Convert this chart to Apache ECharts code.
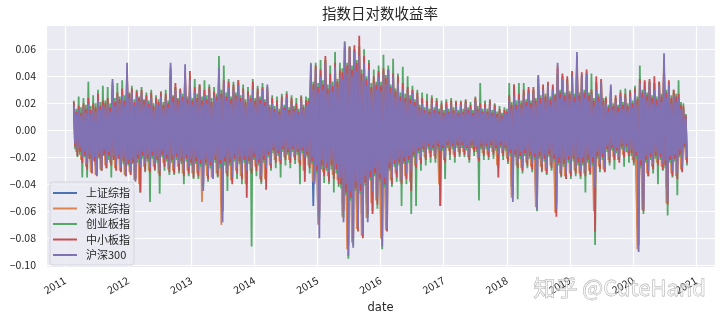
<!DOCTYPE html>
<html><head><meta charset="utf-8">
<script src="https://cdn.jsdelivr.net/npm/echarts@6/dist/echarts.min.js"></script>
<style>html,body{margin:0;padding:0;background:#fff}#c{width:727px;height:319px}</style>
</head><body><div id="c"></div>
<script>
const seriesNames = ['上证综指', '深证综指', '创业板指', '中小板指', '沪深300'];
const seriesColors = ['#4C72B0', '#DD8452', '#55A868', '#C44E52', '#8172B3'];
const startDate = '2011-02-21';
const stepDaysBySeries = [14, 14, 7, 7, 7];
const xTickYears = [2011, 2012, 2013, 2014, 2015, 2016, 2017, 2018, 2019, 2020, 2021];
const yTickValues = [-0.10, -0.08, -0.06, -0.04, -0.02, 0.00, 0.02, 0.04, 0.06];

const shIndex = [
0.015,-0.012,0.013,-0.017,0.014,-0.020,0.016,-0.024,0.013,-0.026,
0.018,-0.022,0.015,-0.020,0.016,-0.018,0.030,-0.021,0.020,-0.022,
0.021,-0.026,0.040,-0.024,0.022,-0.030,0.020,-0.022,0.022,-0.020,
0.018,-0.022,0.019,-0.020,0.016,-0.024,0.020,-0.018,0.018,-0.022,
0.040,-0.022,0.024,-0.020,0.022,-0.024,0.039,-0.022,0.030,-0.024,
0.022,-0.024,0.024,-0.036,0.021,-0.026,0.022,-0.029,0.020,-0.024,
0.037,-0.054,0.029,-0.024,0.026,-0.028,0.024,-0.022,0.026,-0.026,
0.022,-0.024,0.020,-0.022,0.024,-0.020,0.022,-0.027,0.024,-0.022,
0.027,-0.020,0.016,-0.016,0.014,-0.018,0.018,-0.014,0.019,-0.016,
0.016,-0.014,0.013,-0.018,0.018,-0.016,0.014,-0.020,0.039,-0.056,
0.036,-0.064,0.032,-0.022,0.040,-0.025,0.028,-0.024,0.038,-0.028,
0.032,-0.054,0.052,-0.074,0.048,-0.070,0.046,-0.058,0.044,-0.062,
0.040,-0.054,0.036,-0.036,0.028,-0.040,0.032,-0.069,0.034,-0.058,
0.036,-0.028,0.032,-0.024,0.028,-0.030,0.024,-0.026,0.022,-0.024,
0.022,-0.020,0.019,-0.016,0.016,-0.014,0.014,-0.012,0.016,-0.014,
0.014,-0.012,0.013,-0.016,0.014,-0.010,0.015,-0.013,0.014,-0.011,
0.014,-0.011,0.016,-0.014,0.013,-0.010,0.017,-0.016,0.014,-0.012,
0.014,-0.013,0.015,-0.011,0.013,-0.014,0.010,-0.012,0.010,-0.016,
0.018,-0.042,0.020,-0.019,0.018,-0.022,0.021,-0.018,0.022,-0.020,
0.022,-0.047,0.033,-0.020,0.024,-0.022,0.026,-0.019,0.024,-0.046,
0.040,-0.024,0.030,-0.026,0.028,-0.024,0.032,-0.022,0.046,-0.024,
0.032,-0.024,0.034,-0.022,0.022,-0.034,0.024,-0.020,0.029,-0.022,
0.016,-0.016,0.027,-0.014,0.018,-0.016,0.020,-0.013,0.019,-0.012,
0.020,-0.016,0.022,-0.072,0.028,-0.046,0.024,-0.024,0.028,-0.020,
0.024,-0.018,0.026,-0.020,0.046,-0.042,0.027,-0.024,0.021,-0.026,
0.019,-0.022,0.012,-0.016
];

const szIndex = [
0.019,-0.016,0.016,-0.022,0.018,-0.027,0.022,-0.031,0.018,-0.033,
0.025,-0.029,0.020,-0.026,0.022,-0.024,0.036,-0.028,0.026,-0.030,
0.028,-0.033,0.045,-0.031,0.029,-0.037,0.027,-0.040,0.028,-0.027,
0.024,-0.030,0.026,-0.027,0.022,-0.032,0.026,-0.024,0.025,-0.029,
0.047,-0.030,0.032,-0.027,0.029,-0.032,0.044,-0.030,0.040,-0.032,
0.030,-0.032,0.032,-0.053,0.028,-0.034,0.030,-0.035,0.027,-0.032,
0.043,-0.070,0.036,-0.032,0.034,-0.037,0.032,-0.030,0.035,-0.034,
0.029,-0.040,0.027,-0.030,0.033,-0.027,0.029,-0.036,0.031,-0.036,
0.032,-0.026,0.022,-0.022,0.020,-0.023,0.023,-0.020,0.025,-0.022,
0.022,-0.020,0.018,-0.024,0.023,-0.030,0.020,-0.026,0.045,-0.038,
0.046,-0.070,0.042,-0.031,0.052,-0.034,0.038,-0.033,0.048,-0.037,
0.042,-0.064,0.062,-0.088,0.061,-0.083,0.060,-0.073,0.062,-0.078,
0.052,-0.065,0.047,-0.054,0.037,-0.052,0.042,-0.080,0.044,-0.074,
0.045,-0.037,0.041,-0.032,0.037,-0.038,0.032,-0.034,0.030,-0.038,
0.029,-0.026,0.026,-0.022,0.022,-0.020,0.020,-0.017,0.022,-0.019,
0.020,-0.040,0.018,-0.022,0.019,-0.015,0.020,-0.018,0.019,-0.016,
0.019,-0.016,0.021,-0.020,0.017,-0.014,0.022,-0.021,0.018,-0.017,
0.018,-0.018,0.020,-0.016,0.017,-0.026,0.014,-0.017,0.013,-0.021,
0.024,-0.050,0.030,-0.026,0.025,-0.028,0.028,-0.024,0.030,-0.027,
0.030,-0.057,0.040,-0.027,0.032,-0.030,0.034,-0.026,0.032,-0.061,
0.048,-0.032,0.040,-0.034,0.037,-0.032,0.042,-0.030,0.055,-0.032,
0.041,-0.032,0.043,-0.030,0.028,-0.060,0.035,-0.027,0.037,-0.029,
0.022,-0.022,0.032,-0.020,0.024,-0.022,0.026,-0.018,0.025,-0.017,
0.027,-0.022,0.030,-0.088,0.036,-0.059,0.033,-0.032,0.036,-0.027,
0.035,-0.024,0.034,-0.027,0.053,-0.054,0.035,-0.032,0.028,-0.034,
0.025,-0.029,0.016,-0.022
];

const cybIndex = [
0.022,-0.014,0.016,-0.020,0.025,-0.018,0.017,-0.035,0.024,-0.020,0.019,-0.035,0.036,-0.021,0.018,-0.030,0.026,-0.022,0.020,-0.032,
0.030,-0.021,0.021,-0.030,0.033,-0.019,0.022,-0.028,0.032,-0.022,0.020,-0.035,0.030,-0.020,0.024,-0.027,0.035,-0.021,0.025,-0.030,
0.037,-0.025,0.026,-0.034,0.036,-0.026,0.028,-0.032,0.033,-0.025,0.023,-0.036,0.030,-0.024,0.025,-0.046,0.032,-0.021,0.023,-0.031,
0.028,-0.023,0.022,-0.053,0.030,-0.021,0.020,-0.030,0.026,-0.024,0.023,-0.047,0.029,-0.020,0.021,-0.030,0.030,-0.023,0.022,-0.033,
0.040,-0.024,0.026,-0.033,0.032,-0.022,0.024,-0.032,0.030,-0.025,0.027,-0.040,0.035,-0.023,0.025,-0.034,0.036,-0.026,0.024,-0.036,
0.038,-0.025,0.027,-0.036,0.034,-0.027,0.025,-0.042,0.037,-0.026,0.026,-0.038,0.034,-0.028,0.024,-0.036,0.032,-0.024,0.027,-0.035,
0.055,-0.028,0.030,-0.060,0.048,-0.026,0.028,-0.045,0.038,-0.026,0.025,-0.038,0.036,-0.023,0.028,-0.036,0.037,-0.025,0.026,-0.040,
0.034,-0.024,0.023,-0.040,0.032,-0.025,0.026,-0.086,0.038,-0.022,0.024,-0.034,0.033,-0.026,0.025,-0.040,0.035,-0.024,0.023,-0.038,
0.032,-0.020,0.019,-0.030,0.026,-0.017,0.018,-0.028,0.025,-0.019,0.016,-0.035,0.027,-0.016,0.019,-0.026,0.029,-0.018,0.017,-0.028,
0.026,-0.016,0.018,-0.025,0.024,-0.018,0.016,-0.040,0.026,-0.017,0.019,-0.030,0.025,-0.020,0.024,-0.032,0.050,-0.025,0.036,-0.038,
0.050,-0.032,0.035,-0.065,0.052,-0.029,0.037,-0.039,0.052,-0.030,0.034,-0.040,0.048,-0.029,0.036,-0.046,0.058,-0.032,0.038,-0.042,
0.050,-0.043,0.046,-0.065,0.066,-0.048,0.050,-0.095,0.062,-0.052,0.048,-0.085,0.060,-0.045,0.052,-0.072,0.062,-0.047,0.045,-0.078,
0.060,-0.041,0.040,-0.065,0.052,-0.037,0.035,-0.060,0.045,-0.034,0.036,-0.058,0.048,-0.038,0.036,-0.088,0.056,-0.042,0.041,-0.070,
0.048,-0.030,0.034,-0.042,0.053,-0.027,0.031,-0.038,0.042,-0.026,0.028,-0.056,0.047,-0.025,0.027,-0.040,0.040,-0.024,0.026,-0.062,
0.033,-0.020,0.023,-0.056,0.030,-0.017,0.019,-0.030,0.028,-0.016,0.017,-0.026,0.027,-0.014,0.016,-0.024,0.026,-0.015,0.017,-0.024,
0.024,-0.014,0.016,-0.056,0.022,-0.015,0.015,-0.036,0.023,-0.013,0.016,-0.022,0.024,-0.014,0.017,-0.024,0.022,-0.013,0.015,-0.020,
0.022,-0.013,0.016,-0.020,0.023,-0.015,0.017,-0.024,0.021,-0.013,0.015,-0.019,0.025,-0.016,0.018,-0.052,0.035,-0.014,0.016,-0.022,
0.022,-0.014,0.016,-0.022,0.023,-0.013,0.015,-0.021,0.020,-0.015,0.014,-0.028,0.018,-0.013,0.013,-0.022,0.017,-0.015,0.016,-0.025,
0.035,-0.019,0.021,-0.045,0.034,-0.020,0.022,-0.051,0.035,-0.021,0.022,-0.032,0.035,-0.019,0.023,-0.028,0.030,-0.021,0.022,-0.031,
0.030,-0.022,0.024,-0.060,0.034,-0.021,0.026,-0.031,0.032,-0.023,0.027,-0.033,0.031,-0.020,0.025,-0.030,0.030,-0.023,0.027,-0.055,
0.042,-0.026,0.030,-0.035,0.040,-0.027,0.028,-0.036,0.038,-0.024,0.029,-0.036,0.041,-0.023,0.027,-0.034,0.048,-0.026,0.028,-0.036,
0.040,-0.026,0.030,-0.046,0.040,-0.024,0.028,-0.033,0.042,-0.026,0.024,-0.085,0.036,-0.021,0.027,-0.031,0.035,-0.022,0.024,-0.030,
0.025,-0.016,0.019,-0.026,0.028,-0.015,0.020,-0.029,0.024,-0.017,0.019,-0.022,0.030,-0.014,0.021,-0.027,0.031,-0.016,0.020,-0.024,
0.030,-0.019,0.022,-0.026,0.033,-0.021,0.025,-0.060,0.048,-0.028,0.030,-0.062,0.036,-0.024,0.028,-0.034,0.036,-0.022,0.026,-0.032,
0.035,-0.021,0.025,-0.040,0.036,-0.022,0.027,-0.030,0.045,-0.028,0.030,-0.063,0.034,-0.024,0.026,-0.035,0.030,-0.023,0.027,-0.048,
0.037,-0.020,0.021,-0.030,0.020,-0.013,0.012,-0.026
];

const zxbIndex = [
0.021,-0.012,0.014,-0.019,0.018,-0.016,0.013,-0.024,0.020,-0.019,0.016,-0.029,0.024,-0.021,0.015,-0.032,0.020,-0.023,0.017,-0.034,
0.027,-0.020,0.018,-0.030,0.022,-0.018,0.020,-0.028,0.024,-0.019,0.017,-0.026,0.034,-0.022,0.021,-0.030,0.028,-0.021,0.023,-0.031,
0.031,-0.023,0.022,-0.034,0.040,-0.025,0.027,-0.033,0.031,-0.024,0.021,-0.036,0.029,-0.021,0.024,-0.046,0.030,-0.019,0.022,-0.030,
0.026,-0.021,0.020,-0.031,0.028,-0.019,0.018,-0.029,0.024,-0.022,0.021,-0.034,0.028,-0.018,0.019,-0.027,0.027,-0.021,0.020,-0.031,
0.045,-0.022,0.025,-0.032,0.035,-0.020,0.023,-0.030,0.031,-0.023,0.025,-0.034,0.040,-0.021,0.023,-0.032,0.044,-0.024,0.022,-0.035,
0.032,-0.023,0.024,-0.034,0.034,-0.025,0.022,-0.040,0.030,-0.024,0.023,-0.036,0.032,-0.026,0.021,-0.035,0.029,-0.022,0.025,-0.034,
0.040,-0.025,0.027,-0.060,0.037,-0.023,0.025,-0.034,0.036,-0.024,0.023,-0.040,0.034,-0.021,0.026,-0.032,0.037,-0.023,0.024,-0.036,
0.031,-0.022,0.021,-0.050,0.029,-0.023,0.024,-0.032,0.036,-0.020,0.022,-0.030,0.031,-0.024,0.023,-0.038,0.032,-0.022,0.021,-0.044,
0.030,-0.018,0.017,-0.028,0.024,-0.015,0.016,-0.024,0.022,-0.017,0.014,-0.025,0.025,-0.014,0.017,-0.022,0.027,-0.016,0.015,-0.024,
0.024,-0.014,0.016,-0.022,0.020,-0.016,0.014,-0.026,0.025,-0.015,0.017,-0.038,0.022,-0.018,0.022,-0.028,0.040,-0.023,0.034,-0.036,
0.048,-0.030,0.032,-0.060,0.045,-0.026,0.034,-0.034,0.055,-0.028,0.031,-0.038,0.042,-0.026,0.033,-0.036,0.050,-0.029,0.036,-0.040,
0.045,-0.040,0.043,-0.060,0.060,-0.046,0.048,-0.085,0.062,-0.050,0.045,-0.080,0.063,-0.043,0.050,-0.075,0.070,-0.045,0.042,-0.080,
0.055,-0.039,0.038,-0.062,0.050,-0.035,0.032,-0.062,0.040,-0.032,0.034,-0.055,0.044,-0.036,0.033,-0.078,0.046,-0.040,0.039,-0.075,
0.045,-0.028,0.032,-0.040,0.042,-0.025,0.029,-0.035,0.040,-0.024,0.025,-0.040,0.035,-0.023,0.024,-0.036,0.032,-0.022,0.023,-0.045,
0.030,-0.018,0.021,-0.028,0.028,-0.015,0.017,-0.025,0.024,-0.014,0.015,-0.022,0.022,-0.012,0.014,-0.020,0.024,-0.013,0.015,-0.021,
0.022,-0.012,0.014,-0.056,0.020,-0.013,0.013,-0.024,0.021,-0.011,0.014,-0.018,0.022,-0.012,0.015,-0.020,0.021,-0.011,0.013,-0.018,
0.021,-0.011,0.014,-0.018,0.022,-0.013,0.015,-0.022,0.019,-0.011,0.013,-0.016,0.024,-0.014,0.016,-0.023,0.020,-0.012,0.014,-0.019,
0.020,-0.012,0.014,-0.020,0.022,-0.011,0.013,-0.018,0.019,-0.013,0.012,-0.035,0.016,-0.011,0.011,-0.019,0.015,-0.013,0.014,-0.023,
0.026,-0.017,0.019,-0.048,0.034,-0.018,0.019,-0.028,0.027,-0.019,0.020,-0.030,0.030,-0.017,0.021,-0.026,0.032,-0.019,0.020,-0.029,
0.032,-0.020,0.022,-0.055,0.038,-0.019,0.024,-0.030,0.034,-0.021,0.025,-0.032,0.036,-0.018,0.023,-0.028,0.034,-0.021,0.026,-0.064,
0.046,-0.024,0.028,-0.034,0.042,-0.025,0.026,-0.036,0.040,-0.022,0.027,-0.034,0.044,-0.021,0.025,-0.032,0.052,-0.024,0.026,-0.034,
0.043,-0.024,0.028,-0.034,0.045,-0.022,0.026,-0.032,0.030,-0.024,0.022,-0.075,0.040,-0.019,0.025,-0.029,0.038,-0.020,0.022,-0.031,
0.024,-0.014,0.017,-0.024,0.030,-0.013,0.018,-0.022,0.026,-0.015,0.017,-0.024,0.028,-0.012,0.019,-0.020,0.027,-0.012,0.018,-0.019,
0.029,-0.017,0.020,-0.024,0.031,-0.019,0.023,-0.085,0.038,-0.026,0.028,-0.060,0.037,-0.022,0.026,-0.034,0.038,-0.020,0.024,-0.029,
0.040,-0.019,0.023,-0.026,0.036,-0.020,0.025,-0.029,0.050,-0.026,0.028,-0.055,0.037,-0.022,0.024,-0.034,0.030,-0.021,0.025,-0.036,
0.027,-0.018,0.019,-0.031,0.018,-0.012,0.011,-0.024
];

const hs300Index = [
0.018,-0.010,0.012,-0.014,0.015,-0.013,0.011,-0.020,0.017,-0.016,0.013,-0.025,0.020,-0.018,0.012,-0.030,0.016,-0.020,0.014,-0.033,
0.022,-0.017,0.015,-0.028,0.018,-0.015,0.017,-0.024,0.020,-0.016,0.014,-0.022,0.038,-0.019,0.018,-0.026,0.025,-0.018,0.020,-0.028,
0.026,-0.020,0.019,-0.033,0.050,-0.022,0.024,-0.030,0.028,-0.021,0.018,-0.038,0.025,-0.018,0.021,-0.027,0.027,-0.016,0.019,-0.025,
0.022,-0.018,0.017,-0.028,0.024,-0.016,0.015,-0.025,0.020,-0.019,0.018,-0.030,0.025,-0.015,0.016,-0.022,0.023,-0.018,0.017,-0.027,
0.050,-0.019,0.021,-0.028,0.030,-0.017,0.019,-0.025,0.028,-0.020,0.022,-0.030,0.049,-0.018,0.020,-0.027,0.037,-0.021,0.019,-0.030,
0.028,-0.020,0.021,-0.030,0.030,-0.022,0.019,-0.045,0.026,-0.021,0.020,-0.033,0.028,-0.023,0.018,-0.036,0.025,-0.019,0.022,-0.030,
0.046,-0.022,0.024,-0.068,0.036,-0.020,0.022,-0.030,0.032,-0.021,0.020,-0.035,0.030,-0.018,0.023,-0.028,0.033,-0.020,0.021,-0.032,
0.028,-0.019,0.018,-0.030,0.025,-0.020,0.021,-0.028,0.030,-0.017,0.019,-0.025,0.027,-0.021,0.020,-0.034,0.030,-0.019,0.018,-0.028,
0.034,-0.016,0.015,-0.025,0.020,-0.013,0.014,-0.020,0.018,-0.015,0.012,-0.022,0.022,-0.012,0.015,-0.018,0.024,-0.014,0.013,-0.020,
0.020,-0.012,0.014,-0.018,0.016,-0.014,0.012,-0.022,0.022,-0.013,0.015,-0.020,0.018,-0.016,0.020,-0.025,0.049,-0.020,0.030,-0.040,
0.045,-0.026,0.028,-0.080,0.040,-0.022,0.030,-0.028,0.050,-0.024,0.027,-0.031,0.035,-0.022,0.029,-0.030,0.047,-0.025,0.032,-0.035,
0.040,-0.035,0.038,-0.068,0.065,-0.040,0.042,-0.093,0.060,-0.045,0.040,-0.087,0.058,-0.038,0.044,-0.072,0.055,-0.040,0.037,-0.077,
0.050,-0.034,0.033,-0.068,0.045,-0.030,0.028,-0.045,0.035,-0.028,0.030,-0.050,0.040,-0.032,0.029,-0.086,0.042,-0.035,0.034,-0.073,
0.045,-0.024,0.028,-0.035,0.040,-0.022,0.025,-0.030,0.035,-0.021,0.022,-0.037,0.030,-0.020,0.021,-0.032,0.028,-0.019,0.020,-0.030,
0.028,-0.016,0.018,-0.025,0.024,-0.013,0.015,-0.020,0.020,-0.012,0.013,-0.018,0.018,-0.010,0.012,-0.015,0.020,-0.011,0.013,-0.017,
0.018,-0.010,0.012,-0.015,0.016,-0.011,0.011,-0.020,0.017,-0.009,0.012,-0.013,0.019,-0.010,0.013,-0.016,0.018,-0.009,0.011,-0.014,
0.018,-0.009,0.012,-0.014,0.020,-0.011,0.013,-0.018,0.016,-0.009,0.011,-0.012,0.021,-0.012,0.014,-0.020,0.017,-0.010,0.012,-0.015,
0.017,-0.010,0.012,-0.016,0.019,-0.009,0.011,-0.014,0.016,-0.011,0.010,-0.018,0.013,-0.009,0.009,-0.015,0.012,-0.011,0.012,-0.020,
0.022,-0.014,0.016,-0.053,0.025,-0.015,0.016,-0.024,0.023,-0.016,0.017,-0.027,0.026,-0.014,0.018,-0.022,0.028,-0.016,0.017,-0.025,
0.028,-0.017,0.019,-0.059,0.041,-0.016,0.020,-0.025,0.030,-0.018,0.021,-0.028,0.033,-0.015,0.019,-0.024,0.030,-0.018,0.022,-0.058,
0.050,-0.020,0.024,-0.030,0.038,-0.021,0.022,-0.032,0.035,-0.019,0.023,-0.030,0.040,-0.018,0.021,-0.028,0.058,-0.020,0.022,-0.030,
0.040,-0.020,0.024,-0.030,0.042,-0.018,0.022,-0.028,0.027,-0.020,0.018,-0.042,0.030,-0.016,0.021,-0.025,0.036,-0.017,0.019,-0.027,
0.020,-0.012,0.014,-0.020,0.034,-0.011,0.015,-0.018,0.022,-0.013,0.014,-0.020,0.025,-0.010,0.016,-0.016,0.024,-0.010,0.015,-0.015,
0.025,-0.014,0.017,-0.020,0.028,-0.016,0.019,-0.090,0.035,-0.022,0.024,-0.058,0.030,-0.019,0.022,-0.030,0.035,-0.017,0.020,-0.025,
0.030,-0.016,0.019,-0.022,0.033,-0.017,0.021,-0.025,0.057,-0.022,0.024,-0.053,0.034,-0.019,0.020,-0.030,0.026,-0.018,0.021,-0.032,
0.024,-0.015,0.016,-0.028,0.015,-0.010,0.009,-0.020
];

const seriesValues = [shIndex, szIndex, cybIndex, zxbIndex, hs300Index];

const dayMs = 86400000;
const t0 = Date.parse(startDate + 'T00:00:00');
function toPairs(vals, step) { return vals.map((v, i) => [t0 + i * step * dayMs, v]); }

const font = "'Noto Sans CJK SC', 'Noto Sans', sans-serif";
const chart = echarts.init(document.getElementById('c'), null, { renderer: 'canvas' });
chart.setOption({
  animation: false,
  backgroundColor: '#ffffff',
  textStyle: { fontFamily: font },
  title: {
    text: '指数日对数收益率', left: 322, top: 6, padding: 0,
    textStyle: { fontSize: 14.5, fontWeight: 'normal', color: '#262626', fontFamily: font }
  },
  grid: { left: 46, right: 12, top: 25, bottom: 50, show: true, backgroundColor: '#EAEAF2', borderWidth: 0 },
  legend: {
    orient: 'vertical', left: 50, top: 182,
    data: seriesNames,
    icon: 'rect', itemWidth: 24, itemHeight: 2, itemGap: 1.5,
    padding: [4, 4, 3, 3],
    backgroundColor: 'rgba(234,234,242,0.85)', borderColor: '#d4d4dc', borderWidth: 1, borderRadius: 3,
    textStyle: { fontSize: 11, color: '#262626', lineHeight: 14, padding: [0, 0, 0, 4], fontFamily: font },
    selectedMode: false
  },
  xAxis: {
    type: 'time',
    min: Date.parse('2010-09-13T00:00:00'),
    max: Date.parse('2021-04-20T00:00:00'),
    splitNumber: 11,
    minInterval: 365 * dayMs,
    maxInterval: 366 * dayMs,
    name: 'date', nameLocation: 'middle', nameGap: 31,
    nameTextStyle: { fontSize: 11.5, color: '#262626', fontFamily: 'DejaVu Sans' },
    axisLine: { show: false }, axisTick: { show: false },
    axisLabel: {
      rotate: 30, margin: 12, fontSize: 10.5, color: '#262626',
      showMinLabel: false, showMaxLabel: false,
      formatter: function (val) {
        const y = new Date(val).getFullYear();
        return xTickYears.indexOf(y) >= 0 ? String(y) : '';
      }
    },
    splitLine: { show: true, lineStyle: { color: '#ffffff', width: 1.2 } }
  },
  yAxis: {
    type: 'value', min: -0.1015, max: 0.078, splitNumber: 8, scale: true,
    axisLine: { show: false }, axisTick: { show: false },
    axisLabel: {
      margin: 10, fontSize: 10.5, color: '#262626', showMinLabel: false, showMaxLabel: false,
      formatter: function (v) {
        const r = Math.round(v * 100) / 100;
        if (!yTickValues.some(t => Math.abs(t - v) < 1e-9)) return '';
        return (r < 0 ? '\u2212' : '') + Math.abs(r).toFixed(2);
      }
    },
    splitLine: { show: true, lineStyle: { color: '#ffffff', width: 1.2 } }
  },
  graphic: [{
    type: 'text', left: 533, top: 276, silent: true, z: 100,
    style: { text: '知乎 @CuteHand', fontSize: 22, fontFamily: font, fill: 'rgba(255,255,255,0.55)', stroke: 'rgba(140,140,140,0.7)', lineWidth: 0.8 }
  }],
  series: seriesNames.map((name, k) => ({
    name: name, type: 'line', data: toPairs(seriesValues[k], stepDaysBySeries[k]),
    showSymbol: false, symbol: 'none', silent: true,
    color: seriesColors[k],
    lineStyle: { width: 1.8, color: seriesColors[k] },
    emphasis: { disabled: true }
  }))
});
</script>
</body></html>
